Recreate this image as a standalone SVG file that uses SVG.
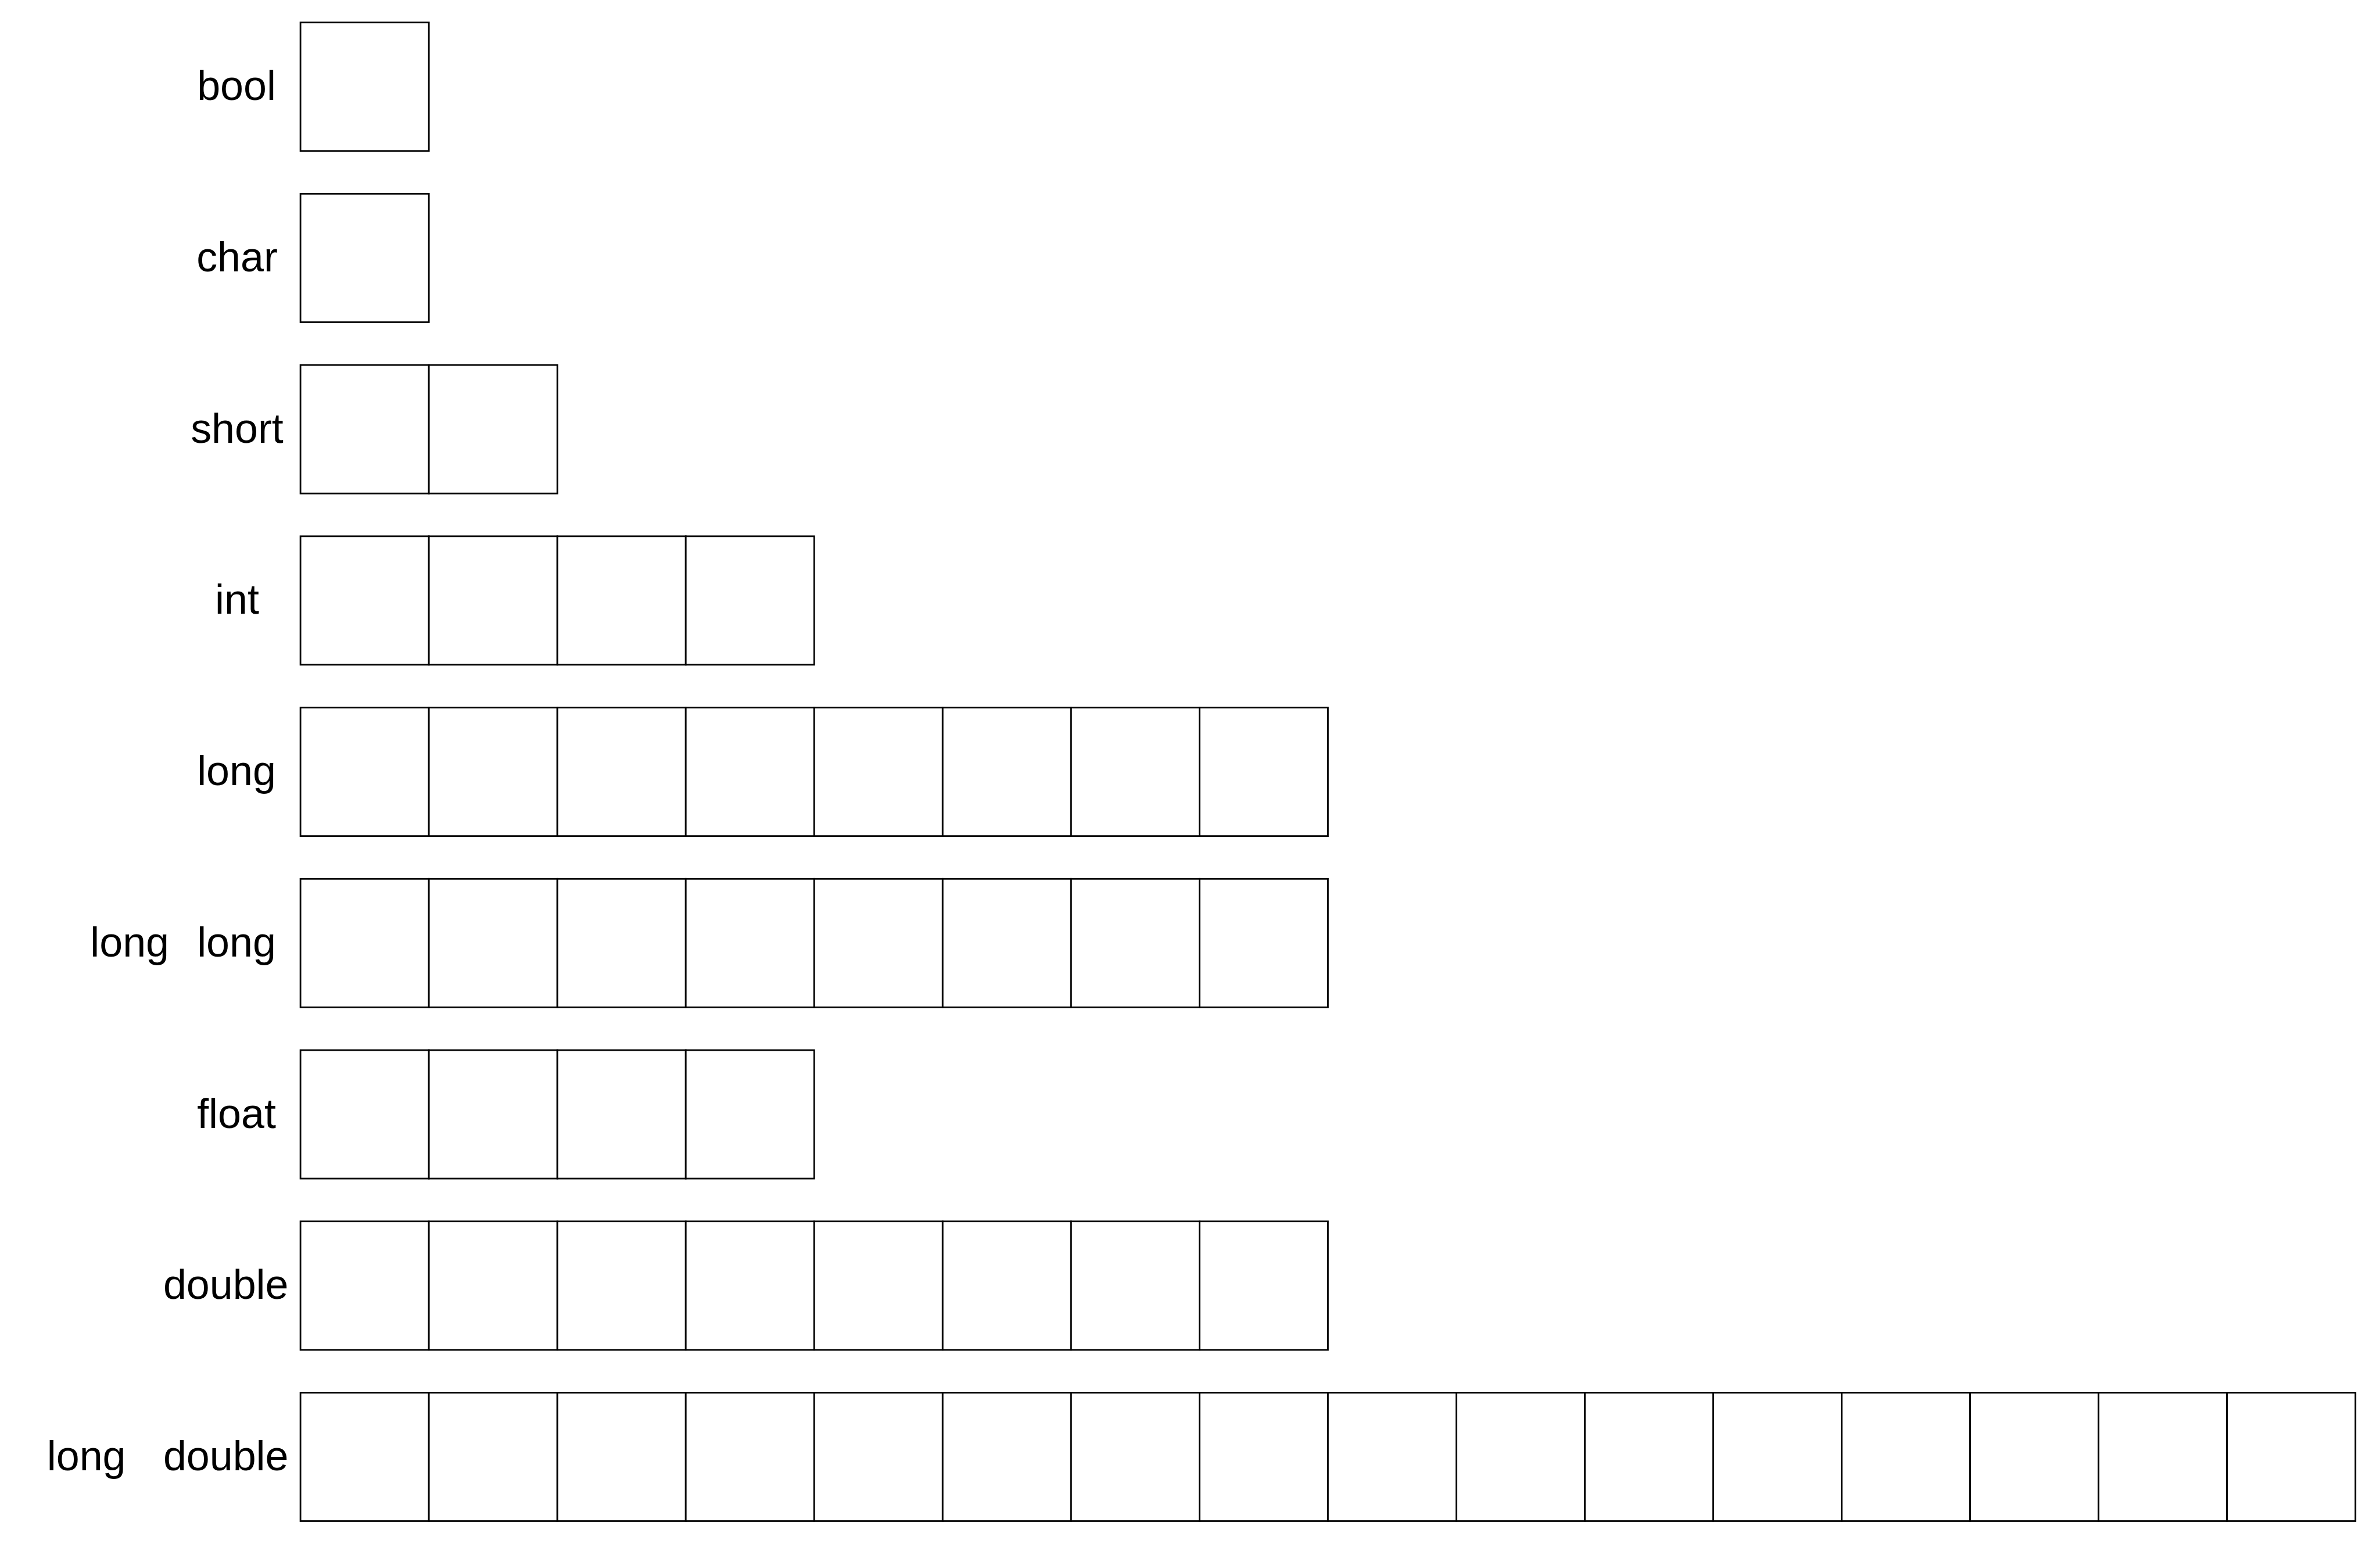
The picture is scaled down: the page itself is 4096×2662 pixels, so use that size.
<svg xmlns="http://www.w3.org/2000/svg" width="4096" height="2662" viewBox="0 0 4096 2662">
<style>
.c{fill:#fff;stroke:#000;stroke-width:2.8}
.t{font-family:"Liberation Sans",Arial,sans-serif;font-size:71.8px;fill:#000;text-anchor:middle}
</style>
<defs>
<rect id="cell" class="c" width="221.04" height="221.04"/>
</defs>
<rect width="4096" height="2662" fill="#fff"/>
<g id="row-bool">
<text class="t" x="407" y="172.2">bool</text>
<use href="#cell" x="517.1" y="38.7"/>
</g>
<g id="row-char">
<text class="t" x="408" y="466.9">char</text>
<use href="#cell" x="517.1" y="333.4"/>
</g>
<g id="row-short">
<text class="t" x="408" y="761.6">short</text>
<use href="#cell" x="517.1" y="628.1"/><use href="#cell" x="738.14" y="628.1"/>
</g>
<g id="row-int">
<text class="t" x="408" y="1056.3">int</text>
<use href="#cell" x="517.1" y="922.8"/><use href="#cell" x="738.14" y="922.8"/><use href="#cell" x="959.18" y="922.8"/><use href="#cell" x="1180.22" y="922.8"/>
</g>
<g id="row-long">
<text class="t" x="407" y="1351.1">long</text>
<use href="#cell" x="517.1" y="1217.6"/><use href="#cell" x="738.14" y="1217.6"/><use href="#cell" x="959.18" y="1217.6"/><use href="#cell" x="1180.22" y="1217.6"/><use href="#cell" x="1401.26" y="1217.6"/><use href="#cell" x="1622.3" y="1217.6"/><use href="#cell" x="1843.34" y="1217.6"/><use href="#cell" x="2064.38" y="1217.6"/>
</g>
<g id="row-long-long">
<text class="t" x="223.2" y="1645.8">long</text>
<text class="t" x="407" y="1645.8">long</text>
<use href="#cell" x="517.1" y="1512.3"/><use href="#cell" x="738.14" y="1512.3"/><use href="#cell" x="959.18" y="1512.3"/><use href="#cell" x="1180.22" y="1512.3"/><use href="#cell" x="1401.26" y="1512.3"/><use href="#cell" x="1622.3" y="1512.3"/><use href="#cell" x="1843.34" y="1512.3"/><use href="#cell" x="2064.38" y="1512.3"/>
</g>
<g id="row-float">
<text class="t" x="407" y="1940.5">float</text>
<use href="#cell" x="517.1" y="1807"/><use href="#cell" x="738.14" y="1807"/><use href="#cell" x="959.18" y="1807"/><use href="#cell" x="1180.22" y="1807"/>
</g>
<g id="row-double">
<text class="t" x="388.7" y="2235.2">double</text>
<use href="#cell" x="517.1" y="2101.7"/><use href="#cell" x="738.14" y="2101.7"/><use href="#cell" x="959.18" y="2101.7"/><use href="#cell" x="1180.22" y="2101.7"/><use href="#cell" x="1401.26" y="2101.7"/><use href="#cell" x="1622.3" y="2101.7"/><use href="#cell" x="1843.34" y="2101.7"/><use href="#cell" x="2064.38" y="2101.7"/>
</g>
<g id="row-long-double">
<text class="t" x="148.7" y="2529.9">long</text>
<text class="t" x="388.7" y="2529.9">double</text>
<use href="#cell" x="517.1" y="2396.4"/><use href="#cell" x="738.14" y="2396.4"/><use href="#cell" x="959.18" y="2396.4"/><use href="#cell" x="1180.22" y="2396.4"/><use href="#cell" x="1401.26" y="2396.4"/><use href="#cell" x="1622.3" y="2396.4"/><use href="#cell" x="1843.34" y="2396.4"/><use href="#cell" x="2064.38" y="2396.4"/><use href="#cell" x="2285.42" y="2396.4"/><use href="#cell" x="2506.46" y="2396.4"/><use href="#cell" x="2727.5" y="2396.4"/><use href="#cell" x="2948.54" y="2396.4"/><use href="#cell" x="3169.58" y="2396.4"/><use href="#cell" x="3390.62" y="2396.4"/><use href="#cell" x="3611.66" y="2396.4"/><use href="#cell" x="3832.7" y="2396.4"/>
</g>
<g id="connectors"/>
</svg>
